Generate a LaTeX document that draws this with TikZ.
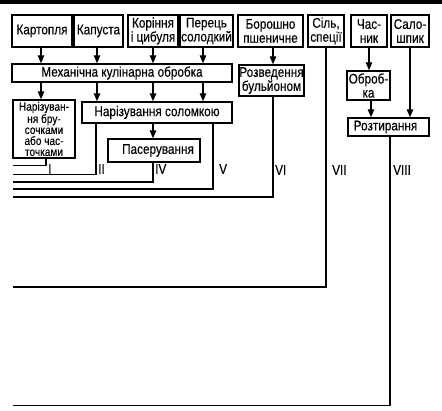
\documentclass[tikz,border=0pt]{standalone}
\usepackage{fontspec}
\setmainfont[FakeStretch=0.84,FakeBold=0.3]{Liberation Sans}
\usetikzlibrary{arrows.meta}
\begin{document}
\begin{tikzpicture}[x=1pt,y=1pt,
  box/.style={draw, line width=1.4pt, inner sep=0pt, align=center, font=\fontsize{14}{14}\selectfont},
  arr/.style={line width=1.2pt, -{Triangle[length=8pt,width=6.5pt]}},
  outl/.style={line width=1.2pt},
  lab/.style={anchor=west, inner sep=0pt, font=\fontsize{14}{14}\selectfont}]
\useasboundingbox (0,0) rectangle (442,-410);
\fill[black] (0,0) rectangle (442,-3.5);
% top row
\node[box, minimum width=60, minimum height=32] (kart) at (42,-31) {Картопля};
\node[box, minimum width=49, minimum height=32] (kap) at (98.5,-31) {Капуста};
\node[box, minimum width=50, minimum height=32] (kor) at (153,-31) {Коріння\\і цибуля};
\node[box, minimum width=53, minimum height=32] (per) at (206.5,-31) {Перець\\солодкий};
\node[box, minimum width=65, minimum height=32] (bor) at (270.5,-31) {Борошно\\пшеничне};
\node[box, minimum width=36, minimum height=32] (sil) at (326,-31) {Сіль,\\спеції};
\node[box, minimum width=36, minimum height=32] (chas) at (369,-31) {Час-\\ник};
\node[box, minimum width=38, minimum height=32] (salo) at (410,-31) {Сало-\\шпик};
% second level
\node[box, minimum width=220, minimum height=18] (mech) at (122,-73) {Механічна кулінарна обробка};
\node[box, minimum width=65, minimum height=31] (rozv) at (271.5,-80.5) {Розведення\\бульйоном};
\node[box, minimum width=43, minimum height=29] (obrob) at (368.5,-85.5) {Оброб-\\ка};
% third level
\node[box, minimum width=62, minimum height=58, font=\fontsize{12}{11}\selectfont] (narbr) at (44,-129) {Нарізуван-\\ня бру-\\сочками\\або час-\\точками};
\node[box, minimum width=150, minimum height=21] (solom) at (157,-112.5) {Нарізування соломкою};
\node[box, minimum width=92, minimum height=23] (paser) at (154,-150.5) {\hspace{8pt}Пасерування};
\node[box, minimum width=81, minimum height=18] (rozt) at (388.5,-127) {Розтирання\hspace{6pt}};
% arrows
\draw[arr] ([xshift=-1]kart.south) -- ([xshift=-81]mech.north);
\draw[arr] ([xshift=-1.5]kap.south) -- ([xshift=-25]mech.north);
\draw[arr] (kor.south) -- ([xshift=31]mech.north);
\draw[arr] ([xshift=-3.5]per.south) -- ([xshift=81]mech.north);
\draw[arr] ([xshift=-81]mech.south) -- ([xshift=-3]narbr.north);
\draw[arr] ([xshift=-25]mech.south) -- ([xshift=-60]solom.north);
\draw[arr] ([xshift=31]mech.south) -- ([xshift=-4]solom.north);
\draw[arr] ([xshift=81]mech.south) -- ([xshift=46]solom.north);
\draw[arr] ([xshift=2.5]bor.south) -- ([xshift=1.5]rozv.north);
\draw[arr] (chas.south) -- ([xshift=0.5]obrob.north);
\draw[arr] ([xshift=-4]solom.south) -- ([xshift=-1]paser.north);
\draw[arr] ([xshift=2.5]obrob.south) -- ([xshift=-17.5]rozt.north);
\draw[arr] (salo.south) -- ([xshift=21.5]rozt.north);
% output lines
\coordinate (eI) at (13,-165.5);
\coordinate (eII) at (13,-174.5);
\coordinate (eIV) at (13,-182);
\coordinate (eV) at (13,-189);
\coordinate (eVI) at (13,-197);
\coordinate (eVII) at (13,-287);
\coordinate (eVIII) at (13,-405.5);
\draw[outl] ([xshift=2]narbr.south) |- (eI);
\draw[outl] ([xshift=-61]solom.south) |- (eII);
\draw[outl] ([xshift=-1]paser.south) |- (eIV);
\draw[outl] ([xshift=56]solom.south) |- (eV);
\draw[outl] ([xshift=1.5]rozv.south) |- (eVI);
\draw[outl] (sil.south) |- (eVII);
\draw[outl] ([xshift=1.5]rozt.south) |- (eVIII);
% labels
\node[lab] (lI) at (48,-169) {I};
\node[lab] (lII) at (98,-169) {II};
\node[lab] (lIV) at (155,-169) {IV};
\node[lab] (lV) at (219,-169) {V};
\node[lab] (lVI) at (275,-170) {VI};
\node[lab] (lVII) at (332,-170) {VII};
\node[lab] (lVIII) at (393,-170) {VIII};
\end{tikzpicture}
\end{document}
